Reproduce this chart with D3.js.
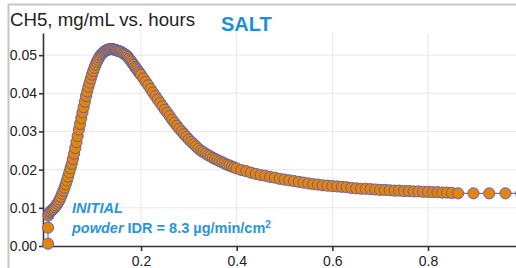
<!DOCTYPE html>
<html><head><meta charset="utf-8">
<script src="https://cdn.jsdelivr.net/npm/d3@7"></script>
<style>
html,body{margin:0;padding:0;background:#fff;}
svg{display:block;}
text{font-family:"Liberation Sans",Arial,Helvetica,sans-serif;}
</style></head>
<body>
<svg id="chart" width="516" height="268"></svg>
<script>
// ---- data ----
const hours = [
 0.0055,0.0055,0.0062,
 0.0075,0.0100,0.0125,0.0150,0.0175,0.0200,0.0225,0.0250,0.0275,0.0300,
 0.0325,0.0350,0.0375,0.0400,0.0425,0.0450,0.0475,0.0500,0.0525,0.0550,
 0.0575,0.0600,0.0625,0.0650,0.0675,0.0700,0.0725,0.0750,0.0775,0.0800,
 0.0825,0.0850,0.0875,0.0900,0.0925,0.0950,0.0975,0.1000,0.1025,0.1050,
 0.1075,0.1100,0.1125,0.1150,0.1175,0.1200,0.1225,0.1250,0.1275,0.1300,
 0.1325,0.1350,0.1375,0.1400,0.1425,0.1450,0.1475,0.1500,0.1525,0.1550,
 0.1575,0.1600,0.1625,0.1650,0.1675,0.1700,0.1725,0.1750,0.1775,0.1800,
 0.1825,0.1850,0.1875,0.1900,0.1925,0.1950,0.1975,0.2000,
 0.205,0.210,0.215,0.220,0.225,0.230,0.235,0.240,0.245,0.250,
 0.255,0.260,0.265,0.270,0.275,0.280,0.285,0.290,0.295,0.300,
 0.305,0.310,0.315,0.320,0.325,0.330,0.335,0.340,0.345,0.350,
 0.355,0.360,0.365,0.370,0.375,0.380,0.385,0.390,0.395,0.400,
 0.41,0.42,0.43,0.44,0.45,0.46,0.47,0.48,0.49,0.50,
 0.51,0.52,0.53,0.54,0.55,0.56,0.57,0.58,0.59,0.60,
 0.61,0.62,0.63,0.64,0.65,0.66,0.67,0.68,0.69,0.70,
 0.71,0.72,0.73,0.74,0.75,0.76,0.77,0.78,0.79,0.80,
 0.81,0.82,0.83,0.84,0.85,
 0.863,0.895,0.928,0.962,0.995
];
const conc = [
 0.0006,0.0048,0.0080,
 0.0086,0.0090,0.0093,0.0095,0.0098,0.0102,0.0106,0.0111,0.0116,0.0122,
 0.0129,0.0137,0.0145,0.0153,0.0162,0.0172,0.0182,0.0193,0.0204,0.0215,
 0.0228,0.0242,0.0257,0.0272,0.0288,0.0305,0.0320,0.0335,0.0350,0.0364,
 0.0378,0.0393,0.0405,0.0417,0.0428,0.0439,0.0449,0.0458,0.0467,0.0475,
 0.0482,0.0488,0.0494,0.0499,0.0503,0.0506,0.0509,0.0511,0.0513,0.0514,
 0.0515,0.0516,0.0516,0.0516,0.0515,0.0514,0.0513,0.0512,0.0511,0.0510,
 0.0509,0.0507,0.0505,0.0503,0.0501,0.0499,0.0495,0.0491,0.0487,0.0483,
 0.0478,0.0474,0.0469,0.0465,0.0461,0.0456,0.0452,0.0448,
 0.0439,0.0430,0.0421,0.0411,0.0402,0.0393,0.0384,0.0375,0.0366,0.0357,
 0.0349,0.0340,0.0331,0.0323,0.0315,0.0307,0.0300,0.0293,0.0286,0.0279,
 0.0273,0.0267,0.0261,0.0255,0.0250,0.0246,0.0242,0.0238,0.0235,0.0231,
 0.0228,0.0225,0.0222,0.0219,0.0216,0.0213,0.0211,0.0208,0.0206,0.0203,
 0.0199,0.0196,0.0192,0.0189,0.0186,0.0184,0.0181,0.0179,0.0176,0.0174,
 0.0172,0.0170,0.0168,0.0166,0.0164,0.0162,0.0161,0.0159,0.0158,0.0157,
 0.0156,0.0155,0.0154,0.0152,0.0151,0.0150,0.0150,0.0149,0.0148,0.0147,
 0.0147,0.0146,0.0145,0.0145,0.0144,0.0144,0.0143,0.0143,0.0142,0.0142,
 0.0141,0.0141,0.0140,0.0140,0.0139,
 0.0138,0.0138,0.0138,0.0138,0.0138
];
const xTicks = [0.2, 0.4, 0.6, 0.8];
const yTicks = [0.00, 0.01, 0.02, 0.03, 0.04, 0.05];
const titleText = "CH5, mg/mL vs. hours";
const saltText = "SALT";

// ---- drawing ----
const svg = d3.select("#chart");
const W = 516, H = 268;
const x = d3.scaleLinear().domain([-0.005, 0.984]).range([43, 516]);
const y = d3.scaleLinear().domain([0, 0.0558]).range([246, 33]);

// outer frame
svg.append("line").attr("x1", 8).attr("x2", W).attr("y1", 4.5).attr("y2", 4.5)
  .attr("stroke", "#c6c6cd").attr("stroke-width", 2);
svg.append("line").attr("x1", 8.5).attr("x2", 8.5).attr("y1", 4).attr("y2", H)
  .attr("stroke", "#c6c6cd").attr("stroke-width", 2);

// grid
const grid = svg.append("g");
grid.selectAll("line.h").data(yTicks.filter(d => d > 0)).join("line")
  .attr("x1", 43).attr("x2", W).attr("y1", d => y(d)).attr("y2", d => y(d))
  .attr("stroke", "#e7e7ef").attr("stroke-width", 1);
grid.selectAll("line.v").data(xTicks).join("line")
  .attr("y1", 33).attr("y2", 246).attr("x1", d => x(d)).attr("x2", d => x(d))
  .attr("stroke", "#e7e7ef").attr("stroke-width", 1);

// axes
const xAxis = svg.append("g").attr("transform", "translate(0,246)")
  .call(d3.axisBottom(x).tickValues(xTicks).tickFormat(d3.format(".1f")).tickSize(5).tickSizeOuter(0).tickPadding(5));
const yAxis = svg.append("g").attr("transform", "translate(43,0)")
  .call(d3.axisLeft(y).tickValues(yTicks).tickFormat(d3.format(".2f")).tickSize(4).tickSizeOuter(0).tickPadding(2));
[xAxis, yAxis].forEach(g => {
  g.select(".domain").attr("stroke", "#333").attr("stroke-width", 1.6);
  g.selectAll(".tick line").attr("stroke", "#333").attr("stroke-width", 1.6);
  g.selectAll(".tick text").attr("fill", "#222").style("font-size", "14px")
   .style("font-family", '"Liberation Sans",Arial,sans-serif');
});

// series line + markers
const pts = hours.map((h, i) => [h, conc[i]]);
svg.append("path").datum(pts)
  .attr("d", d3.line().x(d => x(d[0])).y(d => y(d[1])))
  .attr("fill", "none").attr("stroke", "#6f78c4").attr("stroke-width", 1.2);
svg.append("g").selectAll("circle").data(pts).join("circle")
  .attr("cx", d => x(d[0])).attr("cy", d => y(d[1])).attr("r", 5.6)
  .attr("fill", "#e2840f").attr("stroke", "#5a5eaa").attr("stroke-width", 0.9);

// titles
svg.append("text").attr("x", 10).attr("y", 26).text(titleText)
  .attr("fill", "#222").style("font-size", "17.5px")
  .attr("textLength", 185).attr("lengthAdjust", "spacingAndGlyphs");
svg.append("text").attr("x", 221).attr("y", 31).text(saltText)
  .attr("fill", "#1d8fd8").style("font-size", "20px").style("font-weight", "bold");

// annotation
const ann = svg.append("g").attr("fill", "#2b95d8").style("font-size", "14.5px").style("font-weight", "bold");
ann.append("text").attr("x", 72).attr("y", 213).style("font-style", "italic").text("INITIAL");
const t2 = ann.append("text").attr("x", 72).attr("y", 233);
t2.append("tspan").style("font-style", "italic").text("powder");
t2.append("tspan").text(" IDR = 8.3 \u00b5g/min/cm");
t2.append("tspan").attr("dy", -5).style("font-size", "10px").text("2");
</script>
</body></html>
